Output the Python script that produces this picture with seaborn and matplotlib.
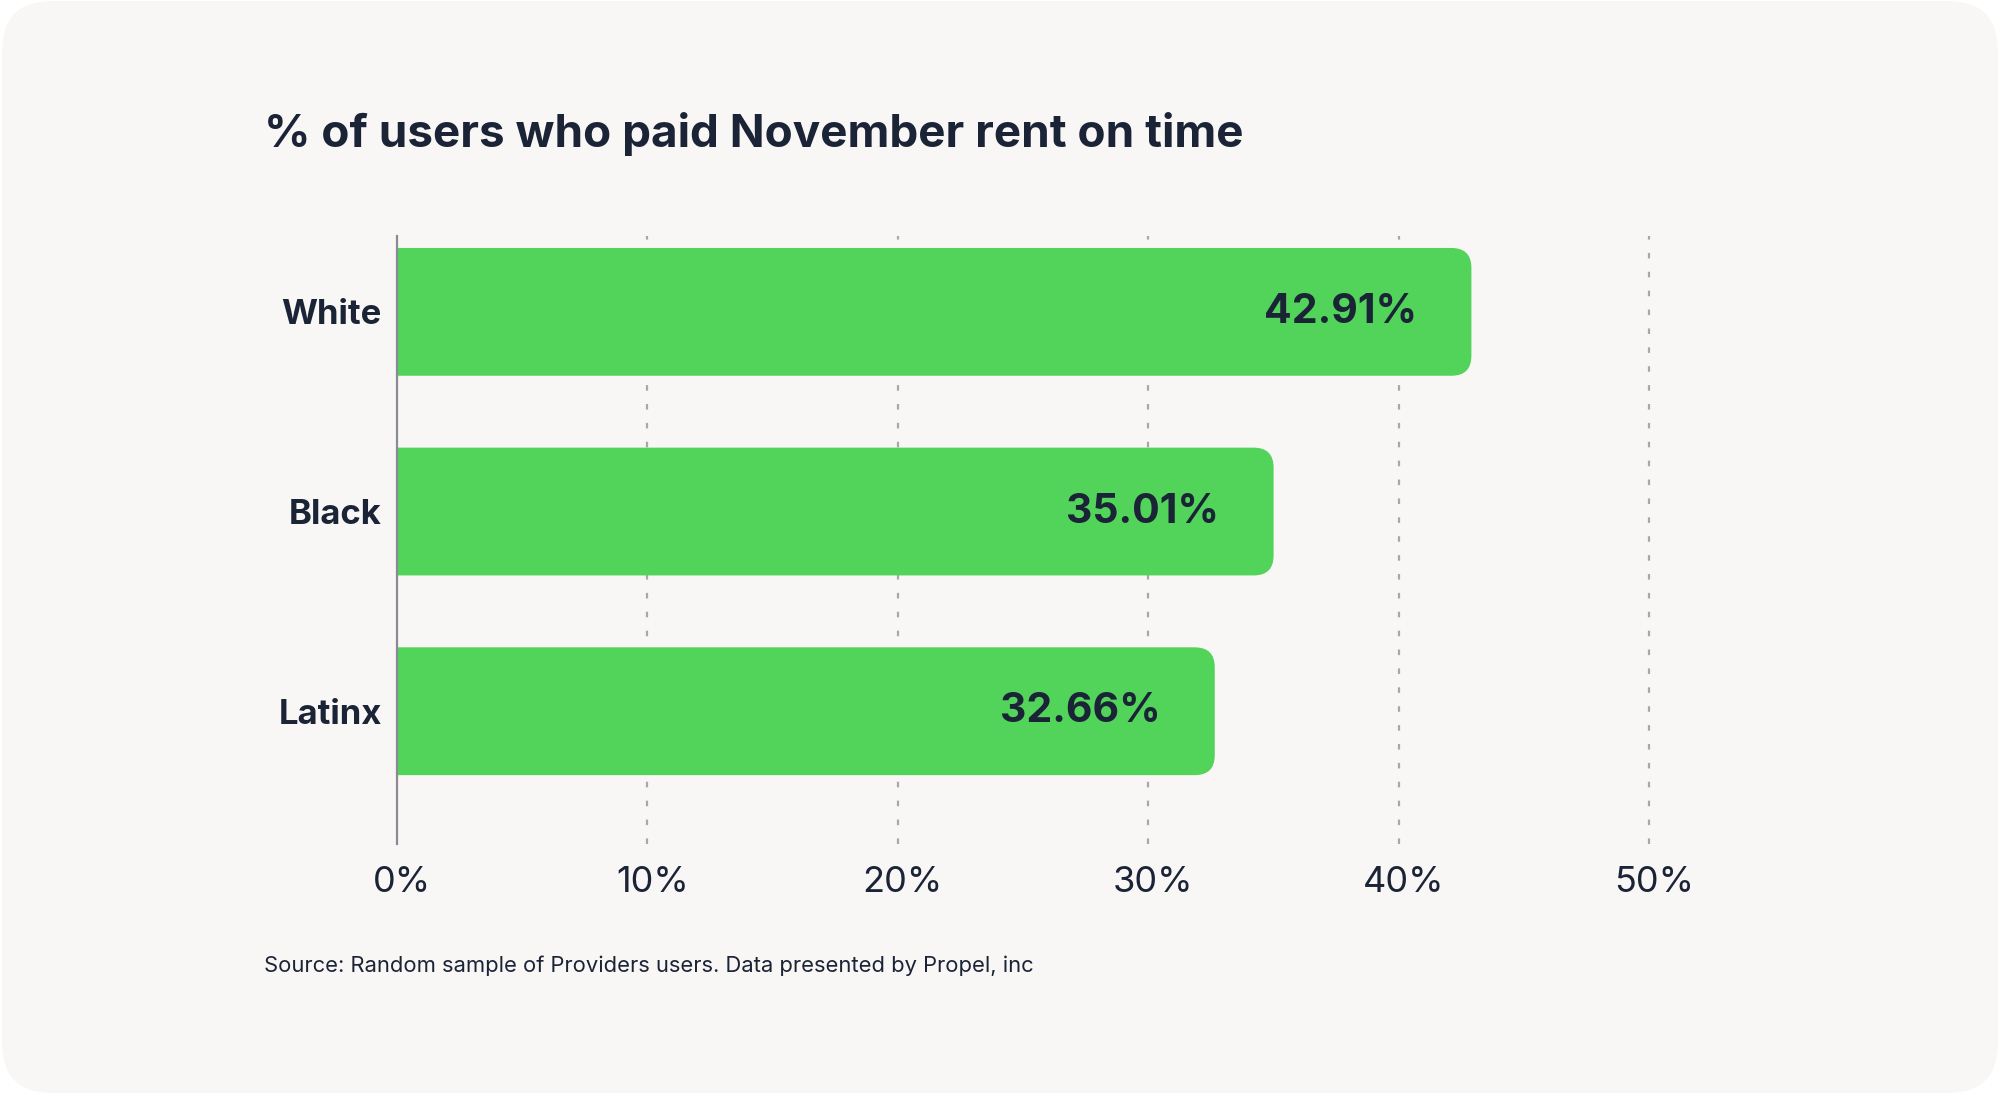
import seaborn as sns
import matplotlib.pyplot as plt
import matplotlib.transforms as mtransforms
import pandas as pd
from matplotlib.patches import FancyBboxPatch

# ---------------------------
# Data
# ---------------------------
groups = ["White", "Black", "Latinx"]
paid_pct = [42.91, 35.01, 32.66]
tick_values = [0, 10, 20, 30, 40, 50]
tick_labels = ["0%", "10%", "20%", "30%", "40%", "50%"]

df = pd.DataFrame({"group": groups, "pct": paid_pct})

# ---------------------------
# Styling
# ---------------------------
sns.set_style("white")
plt.rcParams["font.family"] = ["Inter", "DejaVu Sans"]

TEXT = "#1b2336"
GREEN = "#52d35a"
CARD = "#f8f7f5"

fig = plt.figure(figsize=(20, 10.94), dpi=100, facecolor="white")

# rounded background card
card = FancyBboxPatch((0.001, 0.001), 0.998, 0.998,
                      boxstyle="round,pad=0,rounding_size=0.025",
                      mutation_aspect=2000 / 1094,
                      transform=fig.transFigure, facecolor=CARD,
                      edgecolor="none", zorder=-10)
fig.patches.append(card)

ax = fig.add_axes([0.1985, 0.2285, 0.651, 0.5558])
ax.set_facecolor("none")
ax.set_zorder(1)

sns.barplot(data=df, x="pct", y="group", orient="h", color=GREEN,
            width=0.64, saturation=1, ax=ax)

ax.set_xlim(0, 52)
ax.set_ylim(2.665, -0.38)

# replace bars by ones with rounded right corners
for p in list(ax.patches):
    x0, y0 = p.get_x(), p.get_y()
    w, h = p.get_width(), p.get_height()
    p.set_visible(False)
    rb = FancyBboxPatch((x0 - 2, y0), w + 2, h,
                        boxstyle="round,pad=0,rounding_size=0.8",
                        mutation_aspect=0.125,
                        facecolor=GREEN, edgecolor="none", zorder=3)
    ax.add_patch(rb)

for i, v in enumerate(paid_pct):
    ax.annotate(f"{v:.2f}%", xy=(v, i), xytext=(-39, 0),
                textcoords="offset points", ha="right", va="center",
                fontsize=29.5, fontweight="bold", color=TEXT, zorder=4)

# grid
for t in tick_values[1:]:
    ax.axvline(t, color="#a8a8a8", lw=1.6, ls=(0, (2.5, 6)), zorder=1)

ax.set_xticks(tick_values)
ax.set_xticklabels(tick_labels)
ax.tick_params(axis="x", length=0, pad=16, labelsize=26, labelcolor=TEXT)
ax.tick_params(axis="y", length=0, pad=11)
shift = mtransforms.ScaledTranslation(5 / 100, 0, fig.dpi_scale_trans)
for lbl in ax.get_xticklabels():
    lbl.set_transform(lbl.get_transform() + shift)
for lbl in ax.get_yticklabels():
    lbl.set_fontsize(25)
    lbl.set_fontweight("bold")
    lbl.set_color(TEXT)

for s in ["top", "right", "bottom"]:
    ax.spines[s].set_visible(False)
ax.spines["left"].set_color("#8a8a94")
ax.spines["left"].set_linewidth(1.6)
ax.spines["left"].set_zorder(5)

ax.set_xlabel("")
ax.set_ylabel("")

fig.text(0.132, 0.8775, "% of users who paid November rent on time",
         fontsize=33, fontweight="bold", color=TEXT, va="center", ha="left")
fig.text(0.132, 0.117, "Source: Random sample of Providers users. Data presented by Propel, inc",
         fontsize=15.8, color=TEXT, va="center", ha="left")

fig.savefig("out.png", dpi=100, facecolor="white")
